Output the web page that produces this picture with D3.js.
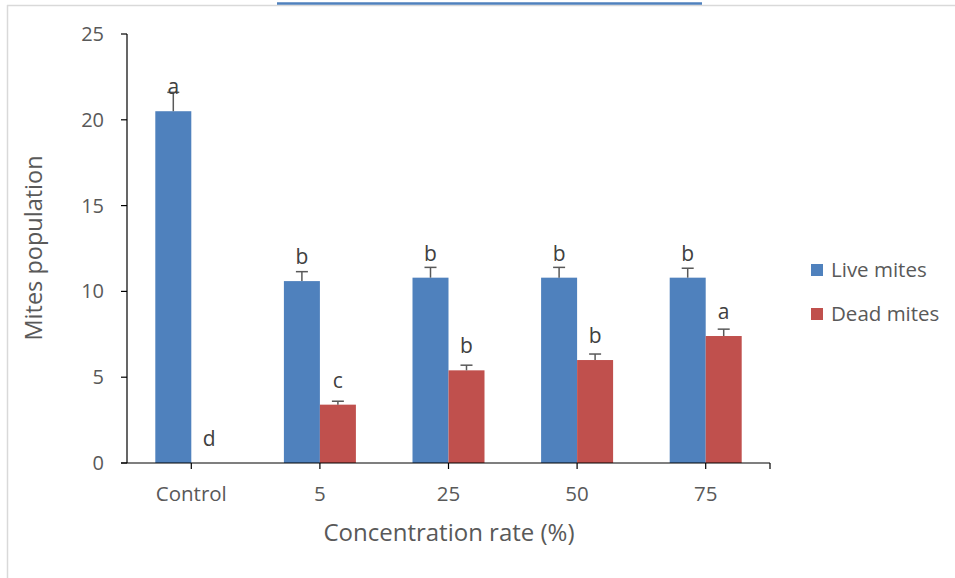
<!DOCTYPE html>
<html>
<head>
<meta charset="utf-8">
<script src="https://cdn.jsdelivr.net/npm/d3@7"></script>
<style>
  body { margin: 0; background: #fff; }
  svg { display: block; font-family: "Open Sans", Lato, sans-serif; }
</style>
</head>
<body>
<svg id="chart" width="955" height="578"></svg>
<script>
const categories = ["Control", "5", "25", "50", "75"];
const seriesNames = ["Live mites", "Dead mites"];
const liveMites = [20.5, 10.6, 10.8, 10.8, 10.8];
const deadMites = [0, 3.4, 5.4, 6.0, 7.4];
const liveErr = [1.1, 0.55, 0.6, 0.6, 0.55];
const deadErr = [0, 0.2, 0.3, 0.35, 0.4];
const liveLetters = ["a", "b", "b", "b", "b"];
const deadLetters = ["d", "c", "b", "b", "a"];
const yTicks = [0, 5, 10, 15, 20, 25];

const colors = ["#4F81BD", "#C0504D"];
const textColor = "#595959";
const letterColor = "#404040";

const svg = d3.select("#chart");
const margin = { left: 127, right: 185, top: 34, bottom: 115 };
const width = 955, height = 578;

// outer frame like the pasted office chart
svg.append("line").attr("x1", 7.5).attr("x2", 7.5).attr("y1", 5).attr("y2", height)
  .attr("stroke", "#d9d9d9").attr("stroke-width", 1.5);
svg.append("line").attr("x1", 7).attr("x2", width).attr("y1", 5.5).attr("y2", 5.5)
  .attr("stroke", "#d9d9d9").attr("stroke-width", 1.5);
svg.append("line").attr("x1", 277).attr("x2", 702).attr("y1", 3.5).attr("y2", 3.5)
  .attr("stroke", "#4F81BD").attr("stroke-width", 2.5);

const x = d3.scaleBand().domain(categories).range([margin.left, 770]).padding(0);
const y = d3.scaleLinear().domain([0, 25]).range([463, 34]);
const barW = 36;

const rows = categories.map((c, i) => ({
  cat: c,
  vals: [liveMites[i], deadMites[i]],
  errs: [liveErr[i], deadErr[i]],
  letters: [liveLetters[i], deadLetters[i]]
}));

const center = (c) => x(c) + x.bandwidth() / 2;

// bars
const g = svg.append("g");
rows.forEach((r) => {
  r.vals.forEach((v, s) => {
    const x0 = s === 0 ? center(r.cat) - barW : center(r.cat);
    if (v > 0) {
      g.append("rect")
        .attr("x", x0).attr("width", barW)
        .attr("y", y(v)).attr("height", y(0) - y(v))
        .attr("fill", colors[s]);
    }
    const cx = x0 + barW / 2;
    if (r.errs[s] > 0) {
      g.append("line").attr("x1", cx).attr("x2", cx)
        .attr("y1", y(v)).attr("y2", y(v + r.errs[s]))
        .attr("stroke", "#595959").attr("stroke-width", 1.5);
      g.append("line").attr("x1", cx - 6).attr("x2", cx + 6)
        .attr("y1", y(v + r.errs[s])).attr("y2", y(v + r.errs[s]))
        .attr("stroke", "#595959").attr("stroke-width", 1.5);
    }
    g.append("text")
      .attr("x", cx).attr("y", y(v) - 17)
      .attr("text-anchor", "middle")
      .attr("font-size", 21)
      .attr("fill", letterColor)
      .text(r.letters[s]);
  });
});

// y axis
const yAxis = svg.append("g");
yAxis.append("line").attr("x1", margin.left).attr("x2", margin.left)
  .attr("y1", y(25)).attr("y2", y(0)).attr("stroke", "#000").attr("stroke-width", 1.2);
yTicks.forEach((t) => {
  yAxis.append("line").attr("x1", margin.left - 6).attr("x2", margin.left)
    .attr("y1", y(t)).attr("y2", y(t)).attr("stroke", "#000").attr("stroke-width", 1.2);
  yAxis.append("text").attr("x", 104).attr("y", y(t)).attr("dy", "0.35em")
    .attr("text-anchor", "end").attr("font-size", 20).attr("fill", textColor).text(t);
});

// x axis
const xAxis = svg.append("g");
xAxis.append("line").attr("x1", margin.left - 6).attr("x2", 770)
  .attr("y1", y(0)).attr("y2", y(0)).attr("stroke", "#000").attr("stroke-width", 1.2);
categories.map(center).concat([770]).forEach((px) => {
  xAxis.append("line").attr("x1", px).attr("x2", px)
    .attr("y1", y(0)).attr("y2", y(0) + 6).attr("stroke", "#000").attr("stroke-width", 1.2);
});
categories.forEach((c) => {
  xAxis.append("text").attr("x", center(c)).attr("y", 501)
    .attr("text-anchor", "middle").attr("font-size", 20.5).attr("fill", textColor).text(c);
});

// axis titles
svg.append("text").attr("x", 449).attr("y", 541).attr("text-anchor", "middle")
  .attr("font-size", 24).attr("fill", textColor).text("Concentration rate (%)");
svg.append("text").attr("transform", "translate(42,248) rotate(-90)")
  .attr("text-anchor", "middle").attr("font-size", 23.5).attr("fill", textColor)
  .text("Mites population");

// legend
const legend = svg.append("g");
seriesNames.forEach((name, i) => {
  const ly = 270 + i * 44;
  legend.append("rect").attr("x", 811).attr("y", ly - 6).attr("width", 12).attr("height", 12)
    .attr("fill", colors[i]);
  legend.append("text").attr("x", 831).attr("y", ly).attr("dy", "0.35em")
    .attr("font-size", 20.5).attr("fill", textColor).text(name);
});
</script>
</body>
</html>
